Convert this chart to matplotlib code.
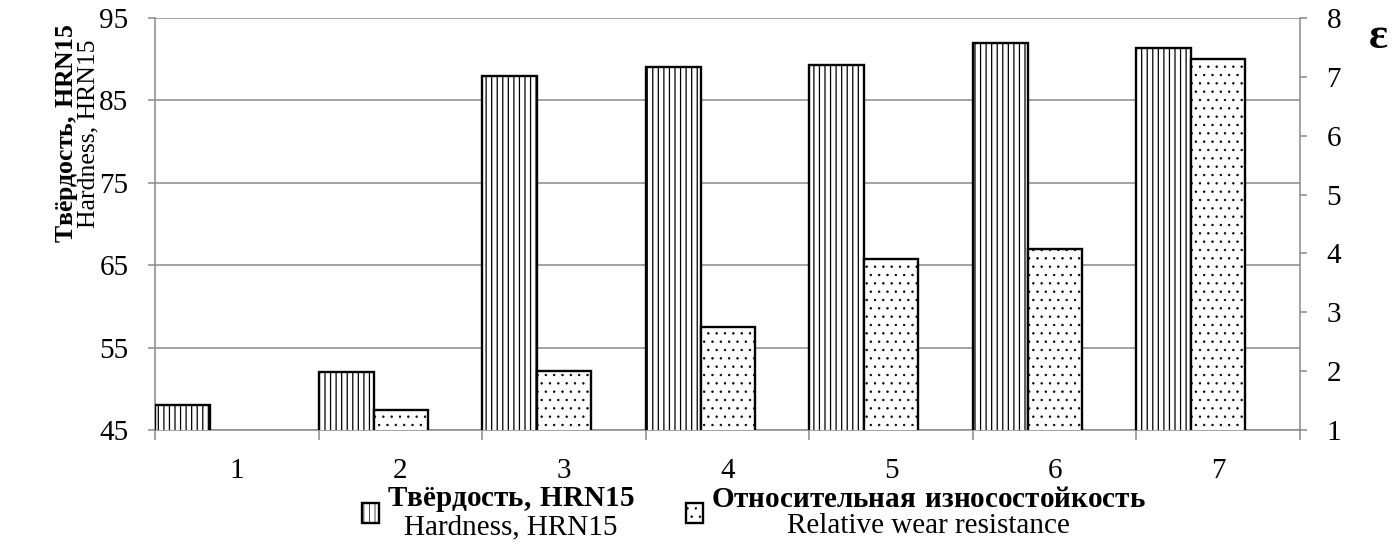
import matplotlib
matplotlib.use('Agg')
import matplotlib.pyplot as plt
import numpy as np

# data
categories = ['1', '2', '3', '4', '5', '6', '7']
hardness = [48.0, 52.0, 88.0, 89.0, 89.3, 92.0, 91.4]       # HRN15, left axis
wear = [np.nan, 1.34, 2.0, 2.75, 3.9, 4.07, 7.31]             # relative wear resistance, right axis
hard_ticks = [45, 55, 65, 75, 85, 95]
wear_ticks = [1, 2, 3, 4, 5, 6, 7, 8]

lbl_hard = '$\\mathbf{Твёрдость{,}\\ HRN15}$\nHardness, HRN15'
lbl_wear = '$\\mathbf{Относительная\\ износостойкость}$\nRelative wear resistance'

plt.rcParams['font.family'] = ['Liberation Serif', 'DejaVu Serif']
plt.rcParams['mathtext.fontset'] = 'custom'
plt.rcParams['mathtext.rm'] = 'Liberation Serif'
plt.rcParams['mathtext.bf'] = 'Liberation Serif:bold'
plt.rcParams['hatch.color'] = 'black'

gray = '#8a8a8a'

fig = plt.figure(figsize=(13.95, 5.44), dpi=100)
ax = fig.add_axes([155/1395, 1-430/544, 1145/1395, 412/544])
ax2 = ax.twinx()

x = np.arange(len(categories))
w = 0.336
plt.rcParams['hatch.linewidth'] = 0.9
b1 = ax.bar(x - 0.5, hardness, width=w, align='edge', color='white',
            edgecolor='black', linewidth=1.7, hatch='|||', zorder=3)
plt.rcParams['hatch.linewidth'] = 0.5
b2 = ax2.bar(x - 0.5 + w, wear, width=0.33, align='edge', color='white',
             edgecolor='black', linewidth=1.7, hatch='..', zorder=3)

ax.set_xlim(-0.5, len(categories) - 0.5)
ax.set_ylim(45, 95)
ax.set_yticks(hard_ticks)
ax2.set_ylim(1, 8)
ax2.set_yticks(wear_ticks)

ax.set_xticks(x)
ax.set_xticklabels(categories)
ax.set_xticks(np.arange(-0.5, len(categories)), minor=True)
ax.tick_params(axis='x', which='major', length=0, pad=20, labelsize=21)
ax.tick_params(axis='x', which='minor', length=7, width=1.1, color=gray)
ax.tick_params(axis='y', length=5, width=1.1, color=gray, pad=14, labelsize=21)
ax2.tick_params(axis='y', length=5, width=1.1, color=gray, pad=14, labelsize=21)

ax.yaxis.grid(True, color=gray, linewidth=1.1)
ax.set_axisbelow(True)

for s in ['top', 'right']:
    ax.spines[s].set_visible(False)
for s in ['left', 'bottom']:
    ax.spines[s].set_color(gray)
    ax.spines[s].set_linewidth(1.1)
for s in ['top', 'left', 'bottom']:
    ax2.spines[s].set_visible(False)
ax2.spines['right'].set_color(gray)
ax2.spines['right'].set_linewidth(1.1)

ax.set_ylabel(lbl_hard, fontsize=18.5, linespacing=0.88)
ax.yaxis.set_label_coords(-0.0484, 0.72)

fig.text(1378/1395, 1-37/544, 'ε', fontsize=32, fontweight='bold',
         ha='center', va='center')

leg = fig.legend([b1, b2], [lbl_hard, lbl_wear], loc='center',
                 bbox_to_anchor=(754/1395, 1-513/544), ncol=2, frameon=False,
                 fontsize=21, handlelength=0.59, handleheight=0.69,
                 handletextpad=0.28, columnspacing=1.75, borderpad=0)
plt.setp(leg.get_texts(), multialignment='center', linespacing=1.0)

fig.savefig('out.png', dpi=100)
